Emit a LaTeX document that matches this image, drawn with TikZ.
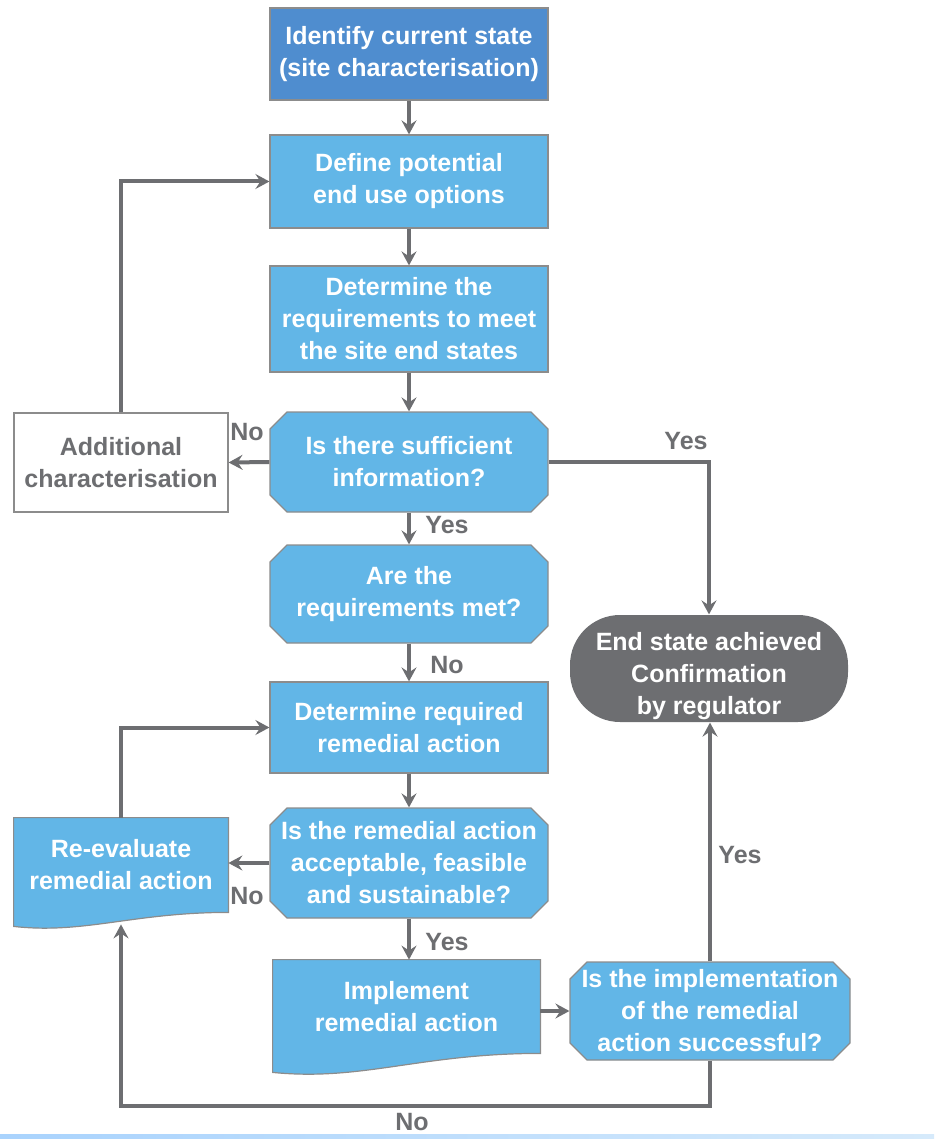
\documentclass[tikz,border=0pt]{standalone}
\usepackage{fontspec}
\setmainfont{Liberation Sans}
\usetikzlibrary{shapes.misc,calc,backgrounds,arrows.meta}
\definecolor{boxblue}{HTML}{62B6E7}
\definecolor{topblue}{HTML}{4F8DCF}
\definecolor{linegray}{HTML}{6D6E71}
\definecolor{edgegray}{HTML}{8C8C8C}
\tikzset{
	box/.style={rectangle, draw=edgegray, line width=0.6pt, fill=boxblue, text=white, minimum width=139pt, inner sep=0pt, align=center},
	ask/.style={box, chamfered rectangle, chamfered rectangle xsep=5pt},
	doc/.style={rectangle, inner sep=0pt, text=white, align=center},
	docedge/.style={draw=edgegray, line width=0.6pt, fill=boxblue},
	lbl/.style={text=linegray, inner sep=0pt},
	arr/.style={->, draw=linegray, line width=2pt}
}
\begin{document}
\begin{tikzpicture}[x=0.5pt, y=-0.5pt, font=\fontsize{12.5}{16}\selectfont\bfseries, line join=miter, >={Stealth[length=7pt,width=7.5pt,inset=2.5pt]}]
	\useasboundingbox (0,0) rectangle (934,1139);
	% main column
	\node[box, fill=topblue, minimum height=46pt] (ident) at (409,54) {Identify current state\\(site characterisation)};
	\node[box, minimum height=46.5pt] (endopt) at (409,181.5) {Define potential\\end use options};
	\node[box, minimum height=53pt] (reqs) at (409,319) {Determine the\\requirements to meet\\the site end states};
	\node[ask, minimum height=50pt] (suffinfo) at (409,462) {Is there sufficient\\information?};
	\node[ask, minimum height=49pt] (reqmet) at (409,594) {Are the\\requirements met?};
	\node[box, minimum height=45.5pt] (remact) at (409,727.5) {Determine required\\remedial action};
	\node[ask, minimum height=55pt] (accept) at (409,863) {Is the remedial action\\acceptable, feasible\\and sustainable?};
	\node[doc, minimum width=133.5pt, minimum height=46.5pt] (implement) at (406.5,1006.5) {Implement\\remedial action};
	% side boxes
	\node[box, fill=white, text=linegray, minimum width=107pt, minimum height=49.5pt] (addchar) at (121,462.5) {Additional\\characterisation};
	\node[doc, minimum width=107pt, minimum height=47pt] (reeval) at (121,865) {Re-evaluate\\remedial action};
	\node[ask, minimum width=140pt, minimum height=49pt] (success) at (710,1011) {Is the implementation\\of the remedial\\action successful?};
	\node[box, draw=none, fill=linegray, rounded corners=25pt, minimum height=53.5pt,
		label={[name=endtext, text=white, align=center, yshift=-4pt]center:{End state achieved\\Confirmation\\by regulator}}] (endstate) at (709,668.5) {};
	
	\begin{scope}[on background layer]
		\draw[docedge] (reeval.north west) -- (reeval.north east) -- (reeval.south east) .. controls ($(reeval.south east)+(-95,0)$) and ($(reeval.south west)+(70,22)$) .. ($(reeval.south west)+(0,14)$) -- cycle;
		\draw[docedge] (implement.north west) -- (implement.north east) -- (implement.south east) .. controls ($(implement.south east)+(-120,0)$) and ($(implement.south west)+(90,28)$) .. ($(implement.south west)+(0,19)$) -- cycle;
	\end{scope}
	
	\foreach \a/\b in {ident/endopt,endopt/reqs,reqs/suffinfo,suffinfo/reqmet,reqmet/remact,remact/accept,accept/implement}\draw[arr] (\a.south) -- (\a.south |- \b.north);
	\draw[arr] (suffinfo.west) -- (addchar.east);
	\draw[arr] (addchar.north) |- (endopt.west);
	\draw[arr] (suffinfo.east) -| (endstate.north);
	\draw[arr] (accept.west) -- (accept.west -| reeval.east);
	\draw[arr] (reeval.north) |- (remact.west);
	\draw[arr] (success.west -| implement.east) -- (success.west);
	\draw[arr] (success.north) -- (success.north |- endstate.south);
	\draw[arr] (success.south) -- ++(0,45) -| ($(reeval.south)+(0,12)$);
	
	\foreach \n/\t/\p in {no1/No/{247,432},yes1/Yes/{686,441},yes2/Yes/{447,525},no2/No/{447,665},no3/No/{247,896},yes3/Yes/{447,942},yes4/Yes/{740,855},no4/No/{412,1122}}\node[lbl] (\n) at (\p) {\t};
	
	\fill[left color={rgb,255:red,169;green,211;blue,253}, right color={rgb,255:red,214;green,234;blue,251}] (0,1134) rectangle (934,1139);
\end{tikzpicture}
\end{document}
